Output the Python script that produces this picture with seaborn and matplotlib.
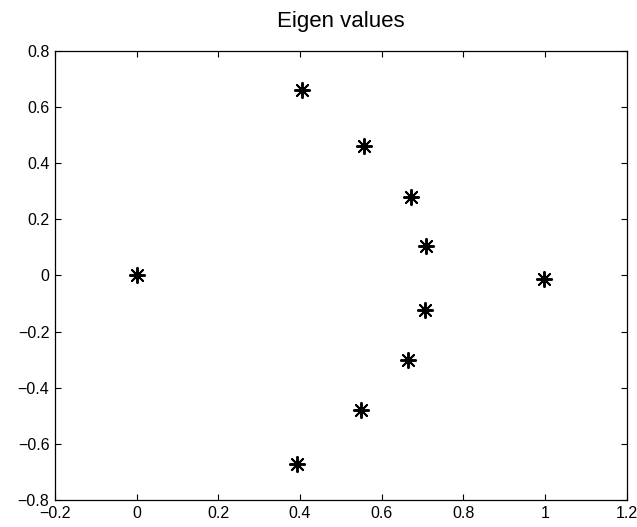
import matplotlib
matplotlib.use("Agg")
import matplotlib.pyplot as plt
import pandas as pd
import seaborn as sns

# eigenvalues (real part, imaginary part)
realPart = [0.0, 0.405, 0.557, 0.671, 0.708, 0.997, 0.706, 0.665, 0.55, 0.393]
imagPart = [0.0, 0.66, 0.46, 0.28, 0.104, -0.014, -0.1225, -0.30, -0.48, -0.672]

xTicks = [-0.2, 0, 0.2, 0.4, 0.6, 0.8, 1, 1.2]
yTicks = [-0.8, -0.6, -0.4, -0.2, 0, 0.2, 0.4, 0.6, 0.8]
xTickLabels = ["\u22120.2", "0", "0.2", "0.4", "0.6", "0.8", "1", "1.2"]
yTickLabels = ["\u22120.8", "\u22120.6", "\u22120.4", "\u22120.2", "0", "0.2", "0.4", "0.6", "0.8"]

sns.set_style("ticks")
plt.rcParams['font.family'] = ['Liberation Sans', 'DejaVu Sans']

data = pd.DataFrame({"Real": realPart, "Imag": imagPart})

fig = plt.figure(figsize=(6.37, 5.27), dpi=100)
ax = fig.add_axes([0.0863, 0.0512, 0.8977, 0.8526])

sns.scatterplot(x="Real", y="Imag", data=data, ax=ax, marker=(8, 2, 0),
                color="black", s=120, linewidth=1.4, legend=False)

ax.set_xlim(-0.2, 1.2)
ax.set_ylim(-0.8, 0.8)
ax.set_xticks(xTicks)
ax.set_xticklabels(xTickLabels)
ax.set_yticks(yTicks)
ax.set_yticklabels(yTickLabels)
ax.set_xlabel("")
ax.set_ylabel("")
ax.tick_params(direction="in", top=True, right=True, length=4, width=0.8,
               labelsize=11.5, colors="black", pad=4)
for side in ax.spines.values():
    side.set_color("black")
    side.set_linewidth(0.9)

ax.set_title("Eigen values", fontsize=16, pad=17, color="black")

fig.savefig("out.png", dpi=100)
plt.close(fig)
